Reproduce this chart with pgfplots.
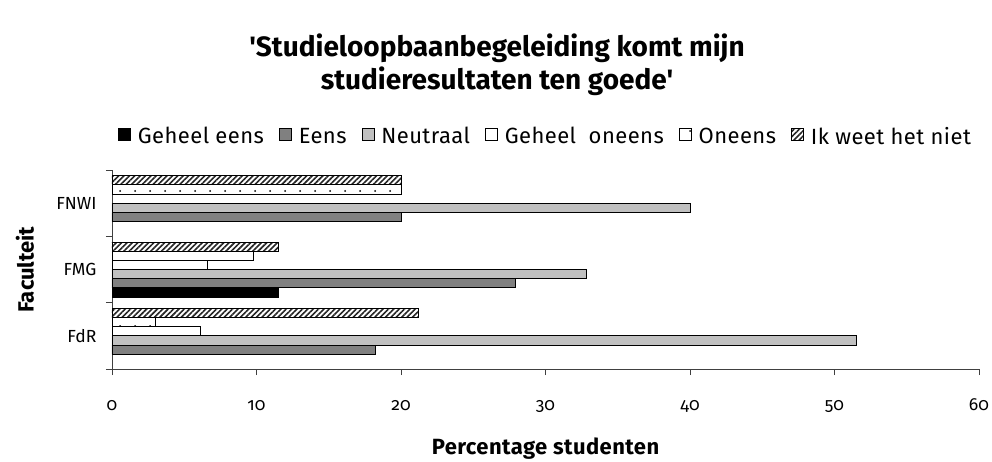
\documentclass[border=0pt]{standalone}
\usepackage{fontspec}
\setmainfont{Fira Sans}[Numbers=OldStyle, Ligatures=TeXOff]
\usepackage{pgfplots}
\pgfplotsset{compat=1.18}
\usetikzlibrary{patterns.meta}
\definecolor{eens}{RGB}{128,128,128}
\definecolor{neutr}{RGB}{192,192,192}
\begin{document}
\begin{tikzpicture}
\useasboundingbox (-112pt,-92pt) rectangle (880pt,369pt);
\begin{axis}[
  scale only axis, width=867pt, height=199pt,
  xbar=0pt, bar width=9.17pt,
  xmin=0, xmax=60, ymin=0.5, ymax=3.5,
  axis x line*=bottom, axis y line*=left,
  axis line style={black!75, line width=0.8pt},
  every tick/.style={black!75, line width=0.8pt},
  tick align=outside, major tick length=6pt,
  xtick={0,10,...,60},
  ytick={0.5,1.5,2.5,3.5}, yticklabels={},
  extra y ticks={1,2,3}, extra y tick labels={FdR,FMG,FNWI},
  extra y tick style={major tick length=0pt},
  tick label style={font=\fontsize{17.5}{20}\selectfont},
  /pgf/number format/assume math mode=true,
  xticklabel style={anchor=base, yshift=-35pt},
  yticklabel style={xshift=-12pt},
  legend columns=6,
  legend style={draw=none, at={(0.5,1.17)}, anchor=center,
    font=\fontsize{22}{24}\selectfont\addfontfeatures{LetterSpace=2},
    /tikz/every odd column/.append style={column sep=5pt},
    /tikz/every even column/.append style={column sep=13pt}},
  legend image code/.code={\draw[#1, line width=0.8pt] (0pt,-4pt) rectangle (12pt,8pt);},
  every axis plot/.append style={draw=black, line width=0.9pt},
]
\addplot[fill=black, bar shift=-22.9pt] coordinates {(11.5,2)};
\addplot[fill=eens, bar shift=-13.75pt] coordinates {(18.2,1) (27.9,2) (20,3)};
\addplot[fill=neutr, bar shift=-4.58pt] coordinates {(51.5,1) (32.8,2) (40,3)};
\addplot[fill=white, bar shift=4.58pt] coordinates {(6.1,1) (6.6,2)};
\addplot[fill=white, bar shift=13.75pt, postaction={pattern={Dots[radius=1pt, distance=15pt]}, pattern color=black}] coordinates {(3.0,1) (9.8,2) (20,3)};
\addplot[fill=white, bar shift=22.9pt, postaction={pattern={Lines[angle=45, distance=3.8pt, line width=1.6pt]}, pattern color=black!85}] coordinates {(21.2,1) (11.5,2) (20,3)};
\legend{Geheel eens, Eens, Neutraal, Geheel\ \ oneens, Oneens, Ik weet het niet}
\end{axis}
\node[font=\bfseries\fontsize{28}{31}\selectfont, align=center] at (385pt,304pt) {'Studieloopbaanbegeleiding komt mijn\\[2pt] studieresultaten ten goede'};
\node[font=\bfseries\fontsize{22}{24}\selectfont, rotate=90] at (-87pt,99.5pt) {Faculteit};
\node[font=\bfseries\fontsize{22}{24}\selectfont\addfontfeatures{LetterSpace=2}] at (433.5pt,-80pt) {Percentage studenten};
\end{tikzpicture}
\end{document}
